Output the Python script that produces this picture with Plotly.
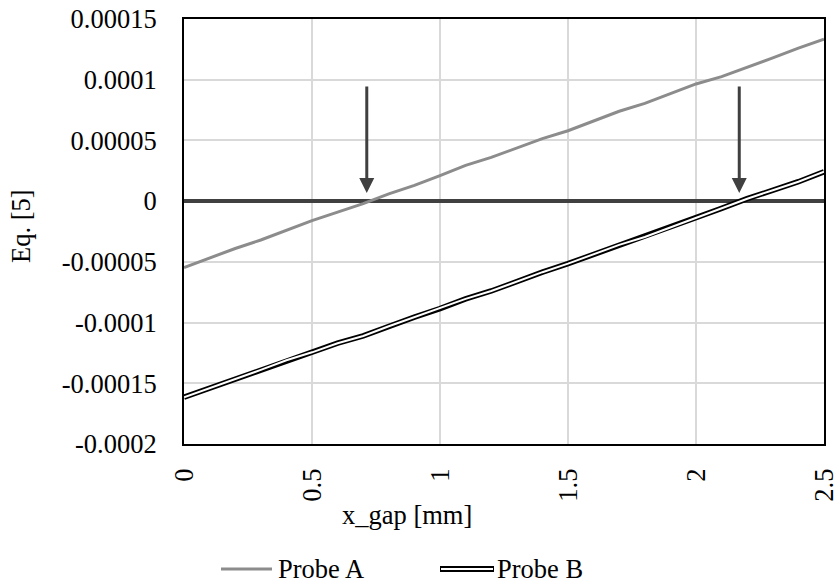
import plotly.graph_objects as go

x_gap = [0.0, 0.1, 0.2, 0.3, 0.4, 0.5, 0.6, 0.7, 0.8, 0.9, 1.0, 1.1, 1.2,
         1.3, 1.4, 1.5, 1.6, 1.7, 1.8, 1.9, 2.0, 2.1, 2.2, 2.3, 2.4, 2.5]
probe_a = [-5.47e-5, -4.7e-5, -3.9e-5, -3.2e-5, -2.4e-5, -1.6e-5, -0.9e-5, -0.2e-5,
           0.6e-5, 1.3e-5, 2.1e-5, 2.95e-5, 3.6e-5, 4.4e-5, 5.15e-5, 5.8e-5,
           6.6e-5, 7.4e-5, 8.05e-5, 8.85e-5, 9.65e-5, 1.025e-4, 1.1e-4, 1.18e-4,
           1.26e-4, 1.334e-4]
probe_b = [-1.615e-4, -1.54e-4, -1.47e-4, -1.39e-4, -1.31e-4, -1.245e-4, -1.17e-4,
           -1.11e-4, -1.03e-4, -9.55e-5, -8.85e-5, -8.05e-5, -7.4e-5, -6.6e-5,
           -5.85e-5, -5.15e-5, -4.4e-5, -3.6e-5, -2.95e-5, -2.15e-5, -1.35e-5,
           -0.6e-5, 0.2e-5, 0.9e-5, 1.6e-5, 2.42e-5]

arrow_x = [0.714, 2.169]
arrow_top = 9.57e-5
arrow_tip = 0.68e-5

x_tickvals = [0, 0.5, 1, 1.5, 2, 2.5]
x_ticktext = ["0", "0.5", "1", "1.5", "2", "2.5"]
y_tickvals = [-0.0002, -0.00015, -0.0001, -0.00005, 0, 0.00005, 0.0001, 0.00015]
y_ticktext = ["-0.0002", "-0.00015", "-0.0001", "-0.00005", "0", "0.00005", "0.0001", "0.00015"]

FONT = "Liberation Serif"
FS = 26.5

PL, PR, PT, PB = 184, 824, 19, 444
W, H = 837, 587


def px_x(p):
    return (p - PL) / (PR - PL)


def px_y(p):
    return (PB - p) / (PB - PT)


fig = go.Figure()
fig.add_trace(go.Scatter(x=x_gap, y=probe_a, mode="lines", name="Probe A",
                         line=dict(color="#8c8c8c", width=3), showlegend=False))
fig.add_trace(go.Scatter(x=x_gap, y=probe_b, mode="lines", name="Probe B",
                         line=dict(color="#000000", width=5.5), showlegend=False))
fig.add_trace(go.Scatter(x=x_gap, y=probe_b, mode="lines", name="Probe B inner",
                         line=dict(color="#ffffff", width=2), showlegend=False))

for xa in arrow_x:
    fig.add_annotation(x=xa, y=arrow_tip, ax=xa, ay=arrow_top, xref="x", yref="y",
                       axref="x", ayref="y", text="", showarrow=True,
                       arrowhead=2, arrowsize=1, arrowwidth=3, arrowcolor="#404040")

tf = dict(family=FONT, size=FS, color="#000")
# axis titles
fig.add_annotation(x=px_x(407), y=px_y(515), xref="paper", yref="paper",
                   text="x_gap [mm]", showarrow=False, font=tf,
                   xanchor="center", yanchor="middle")
fig.add_annotation(x=px_x(21), y=px_y(226), xref="paper", yref="paper",
                   text="Eq. [5]", showarrow=False, textangle=-90, font=tf,
                   xanchor="center", yanchor="middle")

# manual legend
ly = px_y(569)
fig.add_shape(type="line", xref="paper", yref="paper", x0=px_x(221), x1=px_x(272), y0=ly, y1=ly,
              line=dict(color="#8c8c8c", width=3))
fig.add_annotation(x=px_x(276), y=ly, xref="paper", yref="paper", text="Probe A", showarrow=False,
                   xanchor="left", yanchor="middle", font=tf)
fig.add_shape(type="line", xref="paper", yref="paper", x0=px_x(440), x1=px_x(494), y0=ly, y1=ly,
              line=dict(color="#000000", width=6))
fig.add_shape(type="line", xref="paper", yref="paper", x0=px_x(441), x1=px_x(493), y0=ly, y1=ly,
              line=dict(color="#ffffff", width=2))
fig.add_annotation(x=px_x(495), y=ly, xref="paper", yref="paper", text="Probe B", showarrow=False,
                   xanchor="left", yanchor="middle", font=tf)

fig.update_layout(
    width=W, height=H,
    margin=dict(l=PL, r=W - PR, t=PT, b=H - PB, autoexpand=False),
    paper_bgcolor="white", plot_bgcolor="white",
    font=tf,
    showlegend=False,
    xaxis=dict(range=[0, 2.5], tickvals=x_tickvals, ticktext=x_ticktext, tickangle=-90,
               showgrid=True, gridcolor="#d9d9d9", gridwidth=2,
               showline=True, linecolor="#000", linewidth=2, mirror=True,
               zeroline=False, ticks="", ticklabelstandoff=12, automargin=False,
               ticklabeloverflow="allow", tickfont=tf),
    yaxis=dict(range=[-0.0002, 0.00015], tickvals=y_tickvals, ticktext=y_ticktext,
               showgrid=True, gridcolor="#d9d9d9", gridwidth=2,
               showline=True, linecolor="#000", linewidth=2, mirror=True,
               zeroline=True, zerolinecolor="#404040", zerolinewidth=3.5,
               ticks="", ticklabelstandoff=20, automargin=False,
               ticklabeloverflow="allow", tickfont=tf),
)

fig.write_html("out.html", config={"displayModeBar": False},
               post_script="document.body.style.margin='0';document.body.style.overflow='hidden';")
